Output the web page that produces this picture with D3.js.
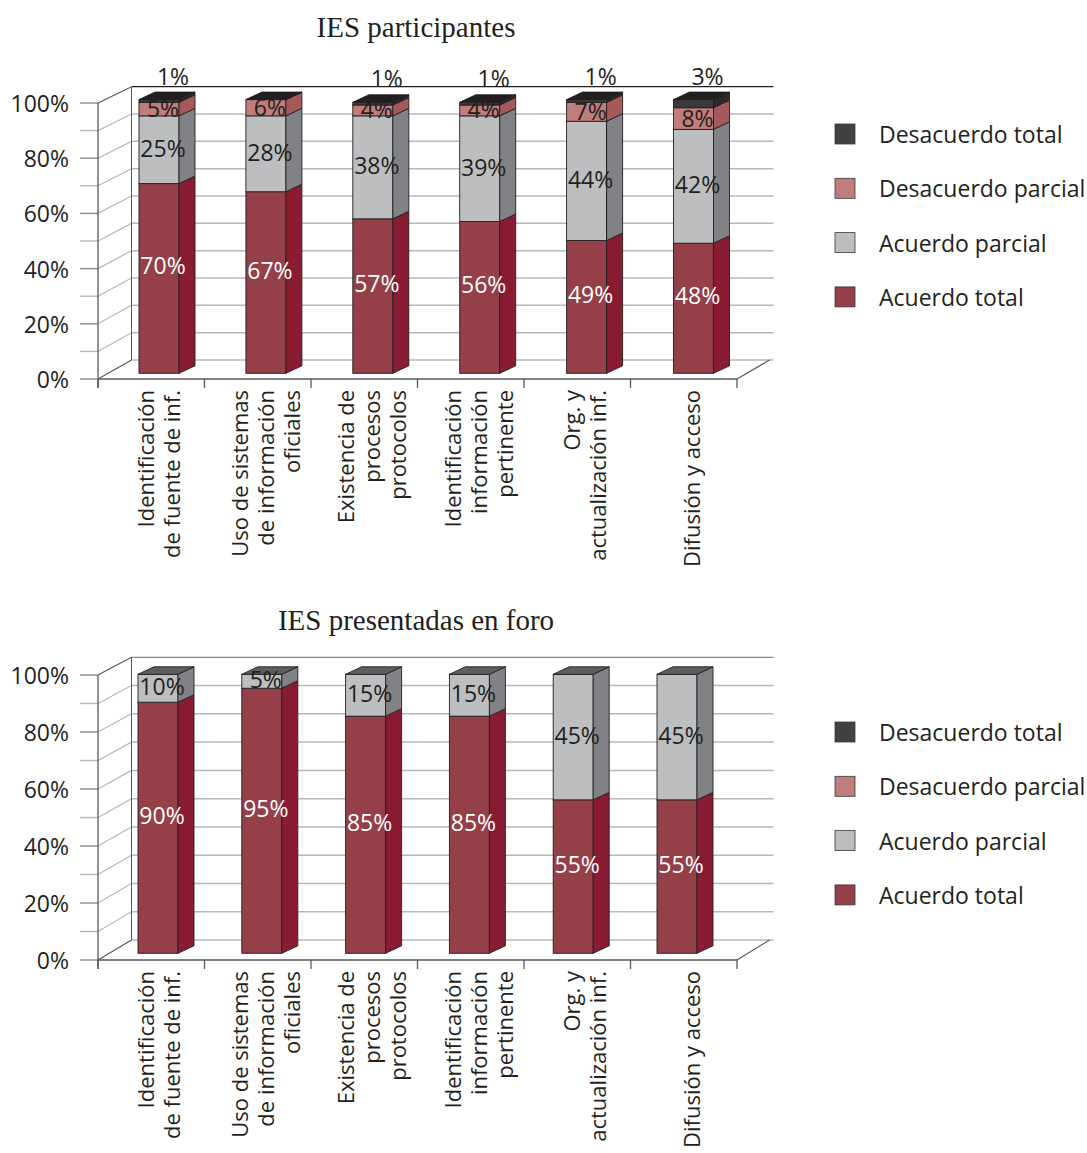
<!DOCTYPE html>
<html>
<head>
<meta charset="utf-8">
<script src="https://cdn.jsdelivr.net/npm/d3@7"></script>
<style>
  html, body { margin: 0; padding: 0; background: #ffffff; }
  svg { display: block; }
</style>
</head>
<body>
<div id="chart"></div>
<script>
// ---------------- DATA ----------------
const categories = [
  ["Identificación", "de fuente de inf."],
  ["Uso de sistemas", "de información", "oficiales"],
  ["Existencia de", "procesos", "protocolos"],
  ["Identificación", "información", "pertinente"],
  ["Org. y", "actualización inf."],
  ["Difusión y acceso"]
];
const seriesNames = ["Acuerdo total", "Acuerdo parcial", "Desacuerdo parcial", "Desacuerdo total"];
const legendOrder = ["Desacuerdo total", "Desacuerdo parcial", "Acuerdo parcial", "Acuerdo total"];

// IES participantes
const partAcuerdoTotal      = [70, 67, 57, 56, 49, 48];
const partAcuerdoParcial    = [25, 28, 38, 39, 44, 42];
const partDesacuerdoParcial = [5, 6, 4, 4, 7, 8];
const partDesacuerdoTotal   = [1, 0, 1, 1, 1, 3];

// IES presentadas en foro
const foroAcuerdoTotal      = [90, 95, 85, 85, 55, 55];
const foroAcuerdoParcial    = [10, 5, 15, 15, 45, 45];
const foroDesacuerdoParcial = [null, null, null, null, null, null];
const foroDesacuerdoTotal   = [null, null, null, null, null, null];

const yTickValues = [0, 20, 40, 60, 80, 100];
const yTickLabels = ["0%", "20%", "40%", "60%", "80%", "100%"];
const gridValues = [0, 10, 20, 30, 40, 50, 60, 70, 80, 90, 100];

// ---------------- STYLE ----------------
const seriesStyle = {
  "Acuerdo total":      { front: "#953f49", side: "#891c33", top: "#7a2533", text: "#ffffff", dy: -13 },
  "Acuerdo parcial":    { front: "#bcbec0", side: "#808285", top: "#5d5e61", text: "#231f20", dy: -2 },
  "Desacuerdo parcial": { front: "#c17c7c", side: "#a5595b", top: "#9b5556", text: "#231f20", dy: -1 },
  "Desacuerdo total":   { front: "#3a3a3c", side: "#2a2a2b", top: "#231f20", text: "#231f20", dy: 0 }
};
const legendColors = {
  "Desacuerdo total": "#414042",
  "Desacuerdo parcial": "#c07d7d",
  "Acuerdo parcial": "#bcbec0",
  "Acuerdo total": "#953f49"
};

const W = 1087, H = 1153;
const FONT = "'Open Sans', 'Noto Sans', sans-serif";
const FS = "23px";
const TEXT = "#231f20";

const charts = [
  {
    title: "IES participantes", titleY: 37,
    series: [partAcuerdoTotal, partAcuerdoParcial, partDesacuerdoParcial, partDesacuerdoTotal],
    front: [379, 103], back: [360, 86.7], bar: [373.3, 102.3],
    barStart: 159, barStep: 106.9, frameColor: "#231f20",
    legendY: 134
  },
  {
    title: "IES presentadas en foro", titleY: 630,
    series: [foroAcuerdoTotal, foroAcuerdoParcial, foroDesacuerdoParcial, foroDesacuerdoTotal],
    front: [960, 675], back: [940, 657.3], bar: [953.3, 674.3],
    barStart: 158, barStep: 103.8, frameColor: "#8c8c8c",
    legendY: 732
  }
];

const axisX0 = 98, axisX1 = 737, depthX = 33.5;
const barW = 40, barDX = 16, barDY = -7.5;
const gridColor = "#b7b8ba", axisColor = "#58595b";

const svg = d3.select("#chart").append("svg")
  .attr("width", W).attr("height", H)
  .attr("viewBox", `0 0 ${W} ${H}`);
svg.append("rect").attr("width", W).attr("height", H).attr("fill", "#ffffff");

charts.forEach(cfg => {
  const g = svg.append("g");
  const yFront = d3.scaleLinear().domain([0, 100]).range(cfg.front);
  const yBack = d3.scaleLinear().domain([0, 100]).range(cfg.back);
  const yBar = d3.scaleLinear().domain([0, 100]).range(cfg.bar);
  const idx = d3.range(categories.length);
  const xCat = d3.scaleBand().domain(idx).range([axisX0, axisX1]);
  const xBar = d3.scalePoint().domain(idx)
    .range([cfg.barStart, cfg.barStart + cfg.barStep * (categories.length - 1)]);
  const backX0 = axisX0 + depthX, backX1 = axisX1 + depthX + 3;

  // title
  g.append("text").attr("x", 416).attr("y", cfg.titleY)
    .attr("text-anchor", "middle")
    .style("font-family", "'Liberation Serif', 'Times New Roman', serif")
    .style("font-size", "29px").attr("fill", TEXT)
    .text(cfg.title);

  // back wall gridlines
  g.selectAll(".bgrid").data(gridValues).join("line")
    .attr("x1", backX0).attr("x2", backX1)
    .attr("y1", d => yBack(d)).attr("y2", d => yBack(d))
    .attr("stroke", d => d === 100 ? cfg.frameColor : gridColor)
    .attr("stroke-width", d => d === 100 ? 1.3 : 1.5);
  // side wall diagonals
  g.selectAll(".sgrid").data(gridValues).join("line")
    .attr("x1", axisX0).attr("x2", backX0)
    .attr("y1", d => yFront(d)).attr("y2", d => yBack(d))
    .attr("stroke", d => (d === 0 || d === 100) ? axisColor : gridColor)
    .attr("stroke-width", 1.2);
  // left ticks
  g.selectAll(".ltick").data(gridValues).join("line")
    .attr("x1", axisX0 - 18).attr("x2", axisX0)
    .attr("y1", d => yFront(d)).attr("y2", d => yFront(d))
    .attr("stroke", d => (d % 20 === 0) ? "#8a8b8d" : gridColor)
    .attr("stroke-width", 1.4);
  // back wall left edge
  g.append("line").attr("x1", backX0).attr("x2", backX0)
    .attr("y1", yBack(0)).attr("y2", yBack(100))
    .attr("stroke", axisColor).attr("stroke-width", 1);
  // front vertical axis
  g.append("line").attr("x1", axisX0).attr("x2", axisX0)
    .attr("y1", yFront(100)).attr("y2", yFront(0) + 9)
    .attr("stroke", axisColor).attr("stroke-width", 1.3);
  // floor front edge + right diagonal
  g.append("line").attr("x1", axisX0).attr("x2", axisX1)
    .attr("y1", yFront(0)).attr("y2", yFront(0))
    .attr("stroke", axisColor).attr("stroke-width", 1.3);
  g.append("line").attr("x1", axisX1).attr("x2", axisX1 + depthX - 1)
    .attr("y1", yFront(0)).attr("y2", yBack(0))
    .attr("stroke", axisColor).attr("stroke-width", 1.2);
  // category boundary ticks
  const bounds = idx.map(i => xCat(i)).concat([xCat.range()[1]]);
  g.selectAll(".ctick").data(bounds).join("line")
    .attr("x1", d => d).attr("x2", d => d)
    .attr("y1", yFront(0)).attr("y2", yFront(0) + 9)
    .attr("stroke", axisColor).attr("stroke-width", 1.3);

  // y tick labels
  g.selectAll(".ylab").data(yTickValues).join("text")
    .attr("x", 69).attr("y", d => yFront(d))
    .attr("text-anchor", "end").attr("dominant-baseline", "central")
    .style("font-family", FONT).style("font-size", FS).attr("fill", TEXT)
    .text((d, i) => yTickLabels[i]);

  // bars
  idx.forEach(i => {
    const cx = xBar(i);
    const x0 = cx - barW / 2, x1 = cx + barW / 2;
    let cum = 0;
    const segs = [];
    seriesNames.forEach((name, s) => {
      const v = cfg.series[s][i];
      if (v === null || v === undefined) return;
      segs.push({ name, v, lo: cum, hi: cum + v });
      cum += v;
    });
    const bg = g.append("g");
    segs.forEach((sg, k) => {
      const st = seriesStyle[sg.name];
      const yl = yBar(sg.lo), yh = yBar(sg.hi);
      bg.append("rect").attr("x", x0).attr("y", yh)
        .attr("width", barW).attr("height", Math.max(0, yl - yh))
        .attr("fill", st.front).attr("stroke", "#231f20").attr("stroke-width", 0.9);
      bg.append("path")
        .attr("d", `M${x1},${yl}L${x1 + barDX},${yl + barDY}L${x1 + barDX},${yh + barDY}L${x1},${yh}Z`)
        .attr("fill", st.side).attr("stroke", "#231f20").attr("stroke-width", 0.9)
        .attr("stroke-linejoin", "round");
      if (k === segs.length - 1) {
        bg.append("path")
          .attr("d", `M${x0},${yh}L${x1},${yh}L${x1 + barDX},${yh + barDY}L${x0 + barDX},${yh + barDY}Z`)
          .attr("fill", st.top).attr("stroke", "#231f20").attr("stroke-width", 0.9)
          .attr("stroke-linejoin", "round");
      }
    });
    segs.forEach(sg => {
      if (!(sg.v > 0)) return;
      const st = seriesStyle[sg.name];
      const above = sg.name === "Desacuerdo total";
      const lx = above ? cx + 14 : cx + 4;
      const ly = above ? yBar(cum) - 24 : yBar((sg.lo + sg.hi) / 2) + st.dy;
      g.append("text").attr("x", lx).attr("y", ly)
        .attr("text-anchor", "middle").attr("dominant-baseline", "central")
        .style("font-family", FONT).style("font-size", FS)
        .attr("fill", st.text)
        .text(Math.round(sg.v) + "%");
    });
  });

  // category labels (rotated, multi-line)
  const lineH = 26;
  idx.forEach(i => {
    const lines = categories[i];
    const cx = xCat(i) + xCat.bandwidth() / 2 + 7;
    const t = g.append("text")
      .attr("transform", `translate(${cx},${yFront(0) + 11}) rotate(-90)`)
      .attr("text-anchor", "end")
      .style("font-family", FONT).style("font-size", "22px").attr("fill", TEXT);
    lines.forEach((ln, k) => {
      t.append("tspan").attr("x", 0)
        .attr("y", (k - (lines.length - 1) / 2) * lineH)
        .attr("dominant-baseline", "central")
        .text(ln);
    });
  });

  // legend
  const lg = g.append("g");
  legendOrder.forEach((name, k) => {
    const ly = cfg.legendY + k * 54.3;
    lg.append("rect").attr("x", 835).attr("y", ly - 10).attr("width", 20).attr("height", 20)
      .attr("fill", legendColors[name]).attr("stroke", "#3a3a3c").attr("stroke-width", 0.8);
    lg.append("text").attr("x", 879).attr("y", ly)
      .attr("dominant-baseline", "central")
      .style("font-family", FONT).style("font-size", FS).attr("fill", TEXT)
      .text(name);
  });
});
</script>
</body>
</html>
